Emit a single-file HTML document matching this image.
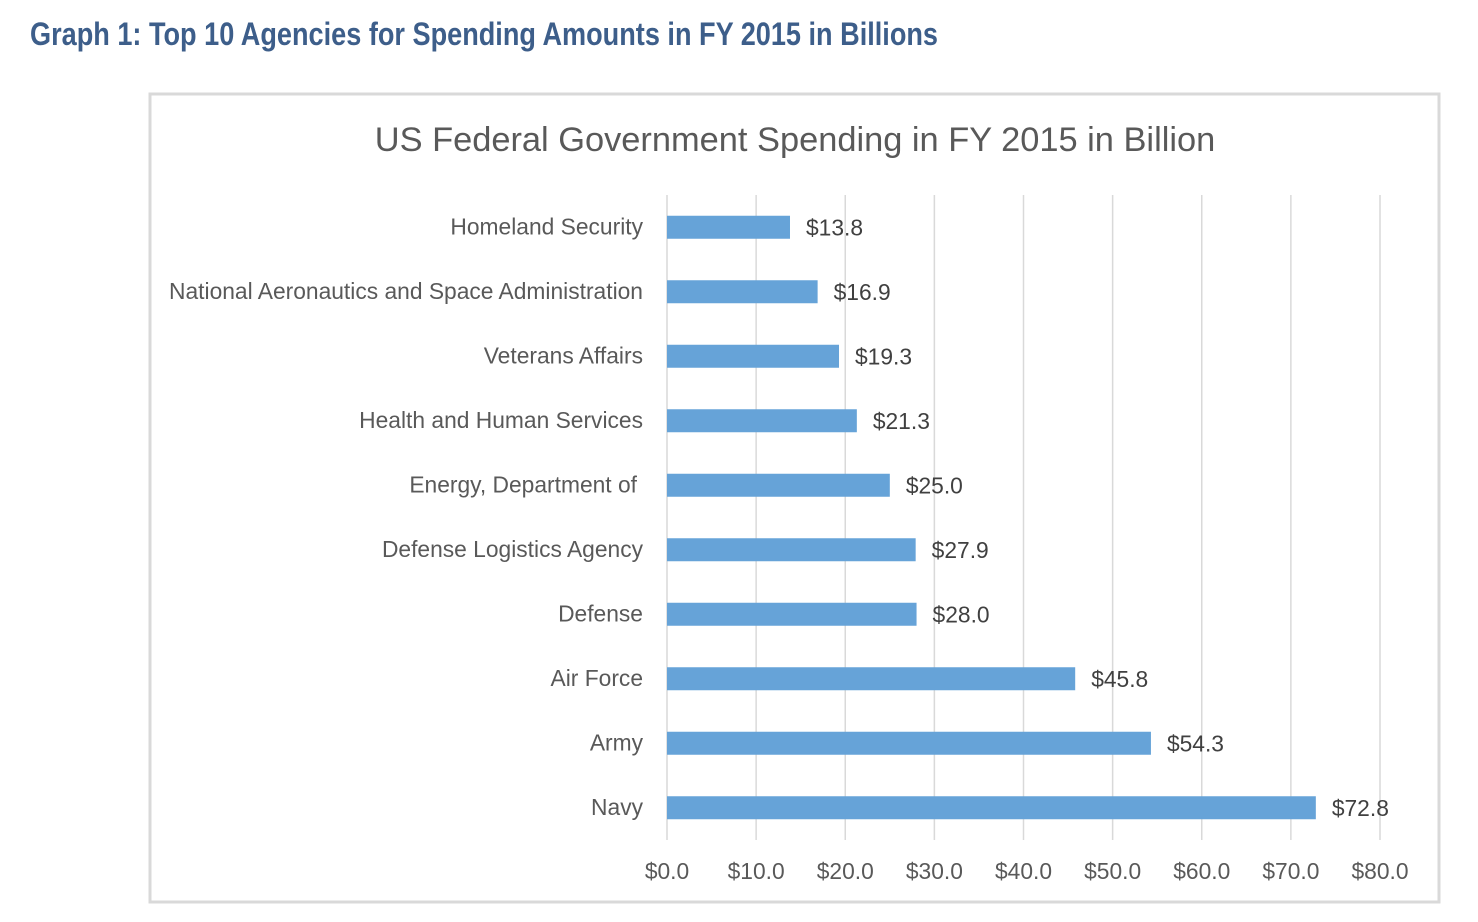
<!DOCTYPE html>
<html><head><meta charset="utf-8"><style>
html,body{margin:0;padding:0;background:#fff;width:1478px;height:922px;overflow:hidden}
#h{position:absolute;left:30px;top:15px;font-family:"Liberation Sans Narrow","Liberation Sans",sans-serif;font-weight:bold;font-size:32px;line-height:38px;color:#3d5e8a;white-space:nowrap;transform-origin:0 0}
svg{position:absolute;left:0;top:0}
</style></head><body>
<div id="h">Graph 1: Top 10 Agencies for Spending Amounts in FY 2015 in Billions</div>
<svg id="c" width="1478" height="922" font-family="'Liberation Sans',sans-serif">
<rect x="150" y="94" width="1289" height="808" fill="#fff" stroke="#d9d9d9" stroke-width="3"/>
<text x="795" y="151" text-anchor="middle" font-size="34.4" fill="#595959">US Federal Government Spending in FY 2015 in Billion</text>
<g id="grid"></g><g id="bars"></g><g id="labels"></g>
</svg>
<script>
const categories=["Homeland Security","National Aeronautics and Space Administration","Veterans Affairs","Health and Human Services","Energy, Department of","Defense Logistics Agency","Defense","Air Force","Army","Navy"];
const values=[13.8,16.9,19.3,21.3,25.0,27.9,28.0,45.8,54.3,72.8];
const valueLabels=["$13.8","$16.9","$19.3","$21.3","$25.0","$27.9","$28.0","$45.8","$54.3","$72.8"];
const ticks=[0,10,20,30,40,50,60,70,80];
const tickLabels=["$0.0","$10.0","$20.0","$30.0","$40.0","$50.0","$60.0","$70.0","$80.0"];
const NS="http://www.w3.org/2000/svg";
const X0=667,X1=1380,VMAX=80,PLOT_TOP=195,PLOT_BOT=840;
const xs=v=>X0+(X1-X0)*v/VMAX;
const band=(PLOT_BOT-PLOT_TOP)/categories.length;
const yc=i=>PLOT_TOP+band*(i+0.5);
function mk(tag,at,parent,txt){const e=document.createElementNS(NS,tag);for(const k in at)e.setAttribute(k,at[k]);if(txt!==undefined)e.textContent=txt;document.getElementById(parent).appendChild(e);return e;}
ticks.forEach((t,i)=>{
 const l=mk('line',{x1:xs(t),x2:xs(t),y1:PLOT_TOP,y2:PLOT_BOT,stroke:'#d9d9d9','stroke-width':1.5},'grid');
 
 
 const tx=mk('text',{x:xs(t),y:879,'text-anchor':'middle','font-size':22.8,fill:'#595959'},'labels',tickLabels[i]);
 
 
});
categories.forEach((c,i)=>{
 const y=yc(i);
 const r=mk('rect',{x:X0,y:y-11.5,width:xs(values[i])-X0,height:23,fill:'#66a3d8'},'bars');
 
 
 const cl=mk('text',{x:(i===4?637:643),y:y+7,'text-anchor':'end','font-size':22.8,fill:'#595959'},'labels',c);
 
 
 const vl=mk('text',{x:xs(values[i])+16,y:y+8,'font-size':22.8,fill:'#404040'},'labels',valueLabels[i]);
 
 
});
const h=document.getElementById('h');const w=h.getBoundingClientRect().width;h.style.transform='scaleX('+(908/w)+')';
</script>
</body></html>
